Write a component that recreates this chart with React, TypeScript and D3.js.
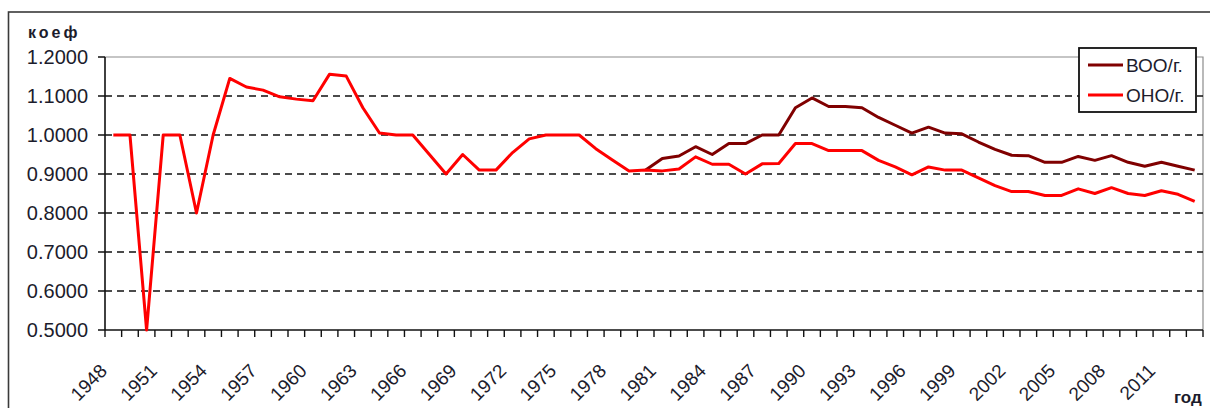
import { line, range, scaleBand, scaleLinear } from 'd3';

const years = range(1948, 2014);

// ОНО/г. — every year 1948..2013
const onoValues = [
  1.0, 1.0, 0.5, 1.0, 1.0, 0.8, 1.0, 1.145, 1.123, 1.115,
  1.098, 1.092, 1.088, 1.156, 1.151, 1.07, 1.005, 1.0, 1.0, 0.95,
  0.9, 0.95, 0.91, 0.91, 0.955, 0.99, 1.0, 1.0, 1.0, 0.965,
  0.936, 0.908, 0.91, 0.908, 0.913, 0.944, 0.925, 0.925, 0.9, 0.926,
  0.927, 0.978, 0.978, 0.96, 0.96, 0.96, 0.935, 0.918, 0.898, 0.918,
  0.91, 0.91, 0.89, 0.87, 0.855, 0.855, 0.845, 0.845, 0.862, 0.85,
  0.865, 0.85, 0.845, 0.857, 0.848, 0.83,
];

// ВОО/г. — from 1980 on (earlier years lie under the red line)
const booStart = 1980;
const booValues = [
  0.91, 0.94, 0.946, 0.97, 0.95, 0.978, 0.978, 1.0, 1.0, 1.07,
  1.095, 1.073, 1.073, 1.07, 1.045, 1.025, 1.005, 1.02, 1.005, 1.003,
  0.982, 0.963, 0.948, 0.947, 0.93, 0.93, 0.945, 0.935, 0.947, 0.93,
  0.92, 0.93, 0.92, 0.91,
];

const yTicks = [0.5, 0.6, 0.7, 0.8, 0.9, 1.0, 1.1, 1.2];
const xLabelYears = years.filter(y => (y - 1948) % 3 === 0);

const width = 1210;
const height = 408;
const plot = { left: 105, right: 1203, top: 57, bottom: 330 };
const font = '"Liberation Sans", Arial, sans-serif';

type Point = { year: number; value: number | null };

export default function App() {
  const x = scaleBand<number>().domain(years).range([plot.left, plot.right]);
  const y = scaleLinear().domain([0.5, 1.2]).range([plot.bottom, plot.top]);
  const cx = (year: number) => (x(year) ?? 0) + x.bandwidth() / 2;

  const ono: Point[] = years.map((year, i) => ({ year, value: onoValues[i] }));
  const boo: Point[] = years.map(year => {
    const i = year - booStart;
    return { year, value: i >= 0 ? booValues[i] : null };
  });

  const path = line<Point>()
    .defined(p => p.value !== null)
    .x(p => cx(p.year))
    .y(p => y(p.value as number));

  const tickPositions = [...years.map(yr => x(yr) ?? 0), plot.right];

  return (
    <div style={{ position: 'absolute', left: 0, top: 0 }}>
      <svg width={width} height={height} style={{ display: 'block', fontFamily: font }}>
        <rect x={0} y={0} width={width} height={height} fill="#fff" />
        <rect x={8.5} y={12} width={1220} height={420} fill="none" stroke="#3a3a3a" strokeWidth={1.6} />

        <path
          d={`M${plot.left},${plot.top}H${plot.right}V${plot.bottom}`}
          fill="none"
          stroke="#8c8c8c"
          strokeWidth={1.2}
        />

        {yTicks.filter(t => t > 0.5 && t < 1.2).map(t => (
          <line
            key={t}
            x1={plot.left}
            x2={plot.right}
            y1={y(t)}
            y2={y(t)}
            stroke="#111"
            strokeWidth={1.5}
            strokeDasharray="7 5"
          />
        ))}

        {yTicks.map(t => (
          <g key={t}>
            <line x1={plot.left - 7} x2={plot.left} y1={y(t)} y2={y(t)} stroke="#111" strokeWidth={1.5} />
            <text x={88} y={y(t) + 7} textAnchor="end" fontSize={20} fill="#1c1c2c">
              {t.toFixed(4)}
            </text>
          </g>
        ))}

        <line x1={plot.left} x2={plot.left} y1={plot.top} y2={plot.bottom} stroke="#111" strokeWidth={1.6} />
        <line x1={plot.left} x2={plot.right} y1={plot.bottom} y2={plot.bottom} stroke="#111" strokeWidth={1.6} />
        {tickPositions.map((px, i) => (
          <line key={i} x1={px} x2={px} y1={plot.bottom} y2={plot.bottom + 7} stroke="#111" strokeWidth={1.4} />
        ))}

        {xLabelYears.map(yr => (
          <text
            key={yr}
            transform={`translate(${cx(yr) - 5},${372}) rotate(-45)`}
            textAnchor="end"
            fontSize={19}
            fill="#1c1c2c"
          >
            {yr}
          </text>
        ))}

        <path d={path(boo) ?? ''} fill="none" stroke="#800000" strokeWidth={3} strokeLinejoin="round" />
        <path d={path(ono) ?? ''} fill="none" stroke="#ff0000" strokeWidth={3} strokeLinejoin="round" />

        <text x={28} y={38} fontSize={16} fontWeight="bold" letterSpacing={3} fill="#1c1c2c">
          коеф
        </text>
        <text x={1174} y={403} fontSize={17} fontWeight="bold" fill="#1c1c2c">
          год
        </text>

        <g>
          <rect x={1079} y={48} width={117} height={64} fill="#fff" stroke="#111" strokeWidth={1.8} />
          <line x1={1088} x2={1123} y1={65} y2={65} stroke="#800000" strokeWidth={3} />
          <text x={1126} y={72} fontSize={19} fill="#1c1c2c">ВОО/г.</text>
          <line x1={1088} x2={1123} y1={95} y2={95} stroke="#ff0000" strokeWidth={3} />
          <text x={1126} y={102} fontSize={19} fill="#1c1c2c">ОНО/г.</text>
        </g>
      </svg>
    </div>
  );
}
